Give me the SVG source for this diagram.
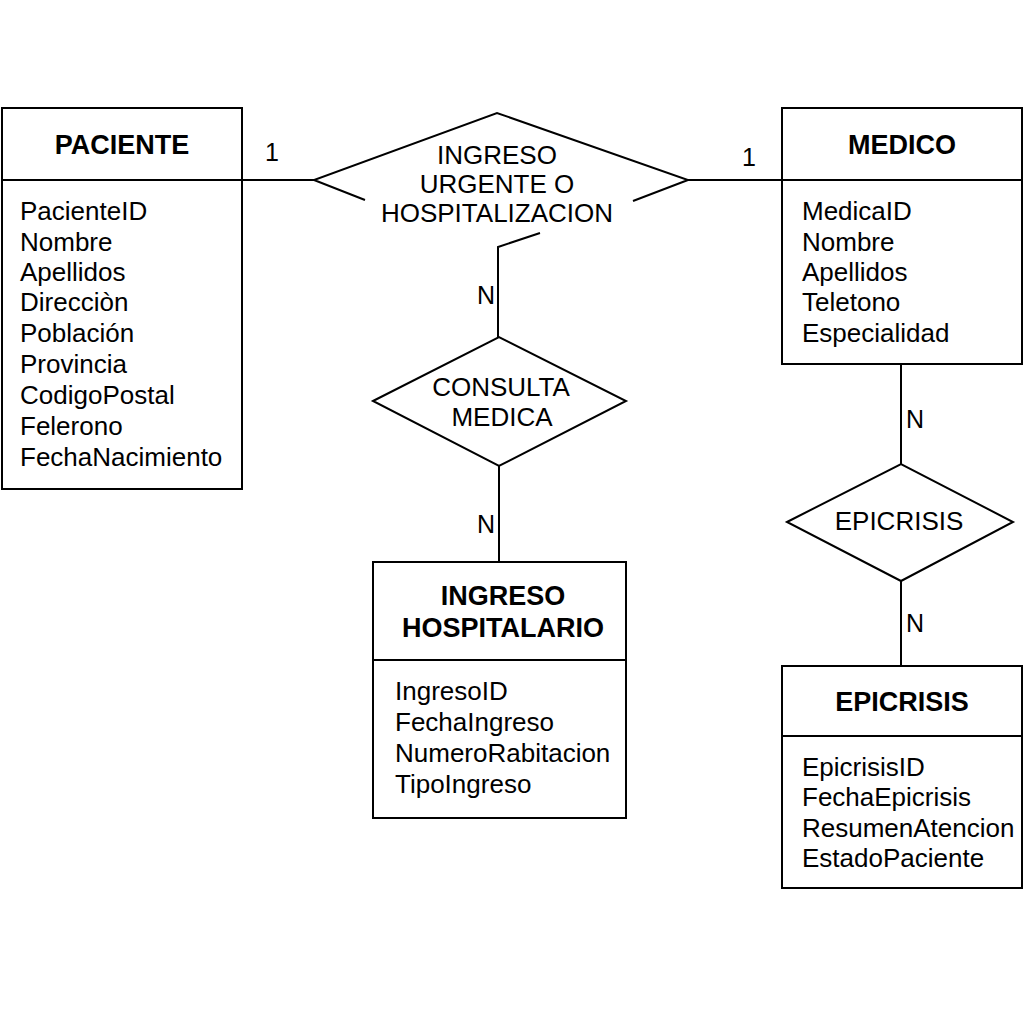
<svg xmlns="http://www.w3.org/2000/svg" width="1024" height="1024" viewBox="0 0 1024 1024">
<style>
.box{fill:#fff;stroke:#000;stroke-width:2}
.ln{fill:none;stroke:#000;stroke-width:2}
.t{font-family:"Liberation Sans",Arial,sans-serif;font-size:26px;fill:#000}
.h{font-family:"Liberation Sans",Arial,sans-serif;font-size:27px;font-weight:bold;fill:#000;text-anchor:middle}
.c{text-anchor:middle}
.lbl{font-family:"Liberation Sans",Arial,sans-serif;font-size:25px;fill:#000}
</style>
<rect width="1024" height="1024" fill="#fff"/>
<g id="connectors">
<line class="ln" x1="242" y1="180" x2="314" y2="180"/>
<line class="ln" x1="688" y1="180" x2="782" y2="180"/>
<polyline class="ln" points="540,233 498,247 498,337"/>
<line class="ln" x1="499" y1="466" x2="499" y2="562"/>
<line class="ln" x1="901" y1="364" x2="901" y2="464"/>
<line class="ln" x1="901" y1="581" x2="901" y2="666"/>
<text class="lbl" x="265" y="161">1</text>
<text class="lbl" x="742" y="166">1</text>
<text class="lbl" x="477" y="304">N</text>
<text class="lbl" x="477" y="533">N</text>
<text class="lbl" x="906" y="428">N</text>
<text class="lbl" x="906" y="632">N</text>
</g>
<g id="paciente">
<rect class="box" x="2" y="108" width="240" height="381"/>
<line class="ln" x1="2" y1="180" x2="242" y2="180"/>
<text class="h" x="122" y="154">PACIENTE</text>
<text class="t" x="20" y="220">PacienteID</text>
<text class="t" x="20" y="251">Nombre</text>
<text class="t" x="20" y="281">Apellidos</text>
<text class="t" x="20" y="311">Direcciòn</text>
<text class="t" x="20" y="342">Población</text>
<text class="t" x="20" y="373">Provincia</text>
<text class="t" x="20" y="404">CodigoPostal</text>
<text class="t" x="20" y="435">Felerono</text>
<text class="t" x="20" y="466">FechaNacimiento</text>
</g>
<g id="ingreso-urgente">
<polyline class="ln" points="365,200 314,180 497,113 688,180 633,201"/>
<text class="t c" x="497" y="164">INGRESO</text>
<text class="t c" x="497" y="193">URGENTE O</text>
<text class="t c" x="497" y="222">HOSPITALIZACION</text>
</g>
<g id="medico">
<rect class="box" x="782" y="108" width="240" height="256"/>
<line class="ln" x1="782" y1="180" x2="1022" y2="180"/>
<text class="h" x="902" y="154">MEDICO</text>
<text class="t" x="802" y="220">MedicaID</text>
<text class="t" x="802" y="251">Nombre</text>
<text class="t" x="802" y="281">Apellidos</text>
<text class="t" x="802" y="311">Teletono</text>
<text class="t" x="802" y="342">Especialidad</text>
</g>
<g id="consulta-medica">
<polygon class="box" points="373,401 499,337 626,401 499,466"/>
<text class="t c" x="501" y="396">CONSULTA</text>
<text class="t c" x="502" y="426">MEDICA</text>
</g>
<g id="ingreso-hospitalario">
<rect class="box" x="373" y="562" width="253" height="256"/>
<line class="ln" x1="373" y1="660" x2="626" y2="660"/>
<text class="h" x="503" y="605">INGRESO</text>
<text class="h" x="503" y="637">HOSPITALARIO</text>
<text class="t" x="395" y="700">IngresoID</text>
<text class="t" x="395" y="731">FechaIngreso</text>
<text class="t" x="395" y="762">NumeroRabitacion</text>
<text class="t" x="395" y="793">TipoIngreso</text>
</g>
<g id="epicrisis-rel">
<polygon class="box" points="787,522 901,464 1013,522 901,581"/>
<text class="t c" x="899" y="530">EPICRISIS</text>
</g>
<g id="epicrisis">
<rect class="box" x="782" y="666" width="240" height="222"/>
<line class="ln" x1="782" y1="736" x2="1022" y2="736"/>
<text class="h" x="902" y="711">EPICRISIS</text>
<text class="t" x="802" y="776">EpicrisisID</text>
<text class="t" x="802" y="806">FechaEpicrisis</text>
<text class="t" x="802" y="837">ResumenAtencion</text>
<text class="t" x="802" y="867">EstadoPaciente</text>
</g>
</svg>
